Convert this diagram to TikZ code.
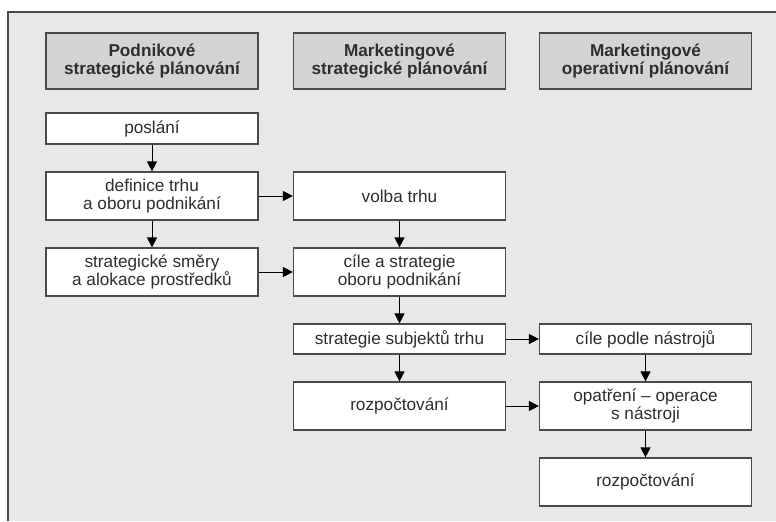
\documentclass[tikz,border=0pt]{standalone}
\usepackage{fontspec}
\setmainfont{Liberation Sans}
\usepackage{tikz}
\usetikzlibrary{arrows.meta}
\definecolor{panelgray}{HTML}{E8E8E8}
\definecolor{headgray}{HTML}{D4D4D4}
\definecolor{linegray}{HTML}{4A4A4A}
\definecolor{textgray}{HTML}{2E2E2E}

\begin{document}
\begin{tikzpicture}[x=0.5pt, y=-0.5pt,
		font=\fontsize{8.6}{9.3}\selectfont, text=textgray,
		box/.style={draw=linegray, fill=white, line width=0.6pt, align=center,
			minimum width=106pt, inner sep=0pt},
		headbox/.style={box, fill=headgray, font=\fontsize{8.6}{9.3}\selectfont\bfseries, minimum height=28pt},
		flow/.style={line width=0.5pt, draw=black, -{Triangle[length=5pt, width=5pt]}}]
		\useasboundingbox (0, 0) rectangle (776, 521);
		\fill [panelgray] (8, 12) rectangle (776, 521);
		\draw [line width=0.6pt, color=linegray] (8, 521) -- (8, 12) -- (776, 12);

		\node [headbox] (hpodnik) at (152, 61) {Podnikové\\strategické plánování};
		\node [headbox] (hmarkstrat) at (399.5, 61) {Marketingové\\strategické plánování};
		\node [headbox] (hmarkoper) at (645.5, 61) {Marketingové\\operativní plánování};

		\node [box, minimum height=15.5pt] (poslani) at (152, 128.5) {poslání};
		\node [box, minimum height=24pt] (definice) at (152, 196) {definice trhu\\a oboru podnikání};
		\node [box, minimum height=24pt] (smery) at (152, 272) {strategické směry\\a alokace prostředků};

		\node [box, minimum height=24pt] (volba) at (399.5, 196) {volba trhu};
		\node [box, minimum height=24pt] (cilestrat) at (399.5, 272) {cíle a strategie\\oboru podnikání};
		\node [box, minimum height=15pt] (subjekty) at (399.5, 339) {strategie subjektů trhu};
		\node [box, minimum height=24pt] (rozpocet) at (399.5, 406) {rozpočtování};

		\node [box, minimum height=15pt] (cilenastr) at (645.5, 339) {cíle podle nástrojů};
		\node [box, minimum height=24pt] (opatreni) at (645.5, 406) {opatření -- operace\\s nástroji};
		\node [box, minimum height=24pt] (rozpocetop) at (645.5, 482) {rozpočtování};

		\draw [flow] (poslani) -- (definice);
		\draw [flow] (definice) -- (smery);
		\draw [flow] (definice) -- (volba);
		\draw [flow] (smery) -- (cilestrat);
		\draw [flow] (volba) -- (cilestrat);
		\draw [flow] (cilestrat) -- (subjekty);
		\draw [flow] (subjekty) -- (rozpocet);
		\draw [flow] (subjekty) -- (cilenastr);
		\draw [flow] (rozpocet) -- (opatreni);
		\draw [flow] (cilenastr) -- (opatreni);
		\draw [flow] (opatreni) -- (rozpocetop);

	\end{tikzpicture}
\end{document}
